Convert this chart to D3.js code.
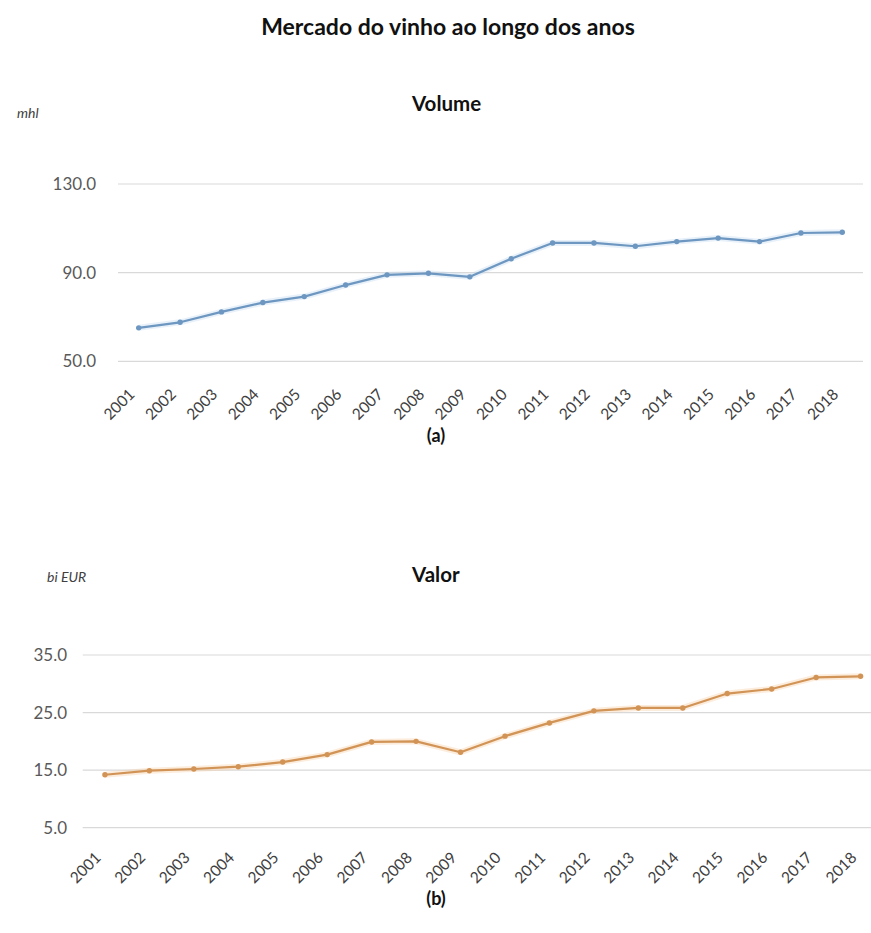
<!DOCTYPE html>
<html>
<head>
<meta charset="utf-8">
<script src="https://cdn.jsdelivr.net/npm/d3@7/dist/d3.min.js"></script>
<style>
  html, body { margin: 0; padding: 0; background: #ffffff; }
  svg { display: block; font-family: Lato, "Open Sans", sans-serif; }
</style>
</head>
<body>
<svg id="chart" width="871" height="933"></svg>
<script>
// Anos
const years = ["2001","2002","2003","2004","2005","2006","2007","2008","2009",
               "2010","2011","2012","2013","2014","2015","2016","2017","2018"];

// Volume (mhl)
const volume = [65.1, 67.6, 72.3, 76.5, 79.2, 84.4, 89.0, 89.7, 88.1,
                96.3, 103.4, 103.4, 101.9, 104.0, 105.6, 104.0, 107.9, 108.2];
const volumeTicks = [50, 90, 130];

// Valor (bi EUR)
const valor = [14.2, 14.9, 15.2, 15.6, 16.4, 17.7, 19.9, 20.0, 18.1,
               20.9, 23.2, 25.3, 25.8, 25.8, 28.3, 29.1, 31.1, 31.3];
const valorTicks = [5, 15, 25, 35];

const svg = d3.select("#chart");
const W = 871;

svg.append("text")
  .attr("x", 448).attr("y", 35)
  .attr("text-anchor", "middle")
  .attr("font-size", 23).attr("font-weight", "bold").attr("fill", "#111")
  .text("Mercado do vinho ao longo dos anos");

function panel(cfg) {
  const g = svg.append("g");
  const x = d3.scaleBand().domain(years).range([cfg.left, cfg.right]).padding(0);
  const y = d3.scaleLinear().domain(cfg.domain).range([cfg.bottom, cfg.top]);

  // grid lines
  g.append("g").selectAll("line").data(cfg.ticks).join("line")
    .attr("x1", cfg.left).attr("x2", Math.min(cfg.right, W))
    .attr("y1", d => y(d)).attr("y2", d => y(d))
    .attr("stroke", "#d9d9d9").attr("stroke-width", 1.2);

  // y tick labels
  const yAxis = d3.axisLeft(y).tickValues(cfg.ticks).tickFormat(d3.format(".1f")).tickSize(0);
  const ya = g.append("g").attr("transform", `translate(${cfg.labelX},0)`).call(yAxis);
  ya.select(".domain").remove();
  ya.selectAll("text").attr("font-size", 17).attr("fill", "#595959")
    .attr("font-family", "Lato, sans-serif").attr("dx", 0);

  // x tick labels, rotated
  const xAxis = d3.axisBottom(x).tickSize(0);
  const xa = g.append("g").attr("transform", `translate(0,${cfg.bottom})`).call(xAxis);
  xa.select(".domain").remove();
  xa.selectAll("text")
    .attr("font-size", 15.5).attr("fill", "#404040").attr("font-family", "Lato, sans-serif")
    .attr("text-anchor", "end")
    .attr("y", 0).attr("dy", 0)
    .attr("transform", `translate(-3,${cfg.yearDY}) rotate(-45)`);

  const cx = d => x(d) + x.bandwidth() / 2;
  const pts = years.map((yr, i) => [cx(yr), y(cfg.values[i])]);

  // soft halo under the line
  g.append("path").datum(pts)
    .attr("d", d3.line())
    .attr("fill", "none").attr("stroke", cfg.halo).attr("stroke-width", 6)
    .attr("stroke-linejoin", "round").attr("opacity", 0.35);

  g.append("path").datum(pts)
    .attr("d", d3.line())
    .attr("fill", "none").attr("stroke", cfg.color).attr("stroke-width", 2.2)
    .attr("stroke-linejoin", "round");

  g.append("g").selectAll("circle").data(pts).join("circle")
    .attr("cx", d => d[0]).attr("cy", d => d[1]).attr("r", 2.7)
    .attr("fill", cfg.color);

  // panel title, unit and caption
  svg.append("text").attr("x", cfg.titleX).attr("y", cfg.titleY)
    .attr("font-size", 20.5).attr("font-weight", "bold").attr("fill", "#111")
    .text(cfg.title);
  svg.append("text").attr("x", cfg.unitX).attr("y", cfg.unitY)
    .attr("font-size", 14).attr("font-style", "italic").attr("fill", "#404040")
    .text(cfg.unit);
  svg.append("text").attr("x", 436).attr("y", cfg.capY)
    .attr("text-anchor", "middle")
    .attr("font-size", 18).attr("font-weight", "bold").attr("fill", "#111")
    .text(cfg.caption);
}

panel({
  values: volume, ticks: volumeTicks, domain: [50, 130],
  left: 118, right: 863, top: 184, bottom: 361.3, labelX: 99, yearDY: 34,
  color: "#6d97c0", halo: "#bcd6ee",
  title: "Volume", titleX: 412, titleY: 111,
  unit: "mhl", unitX: 17, unitY: 118,
  caption: "(a)", capY: 442
});

panel({
  values: valor, ticks: valorTicks, domain: [5, 35],
  left: 82.7, right: 882.8, top: 655, bottom: 827.7, labelX: 70, yearDY: 31,
  color: "#d19456", halo: "#f6c99a",
  title: "Valor", titleX: 412, titleY: 582,
  unit: "bi EUR", unitX: 47, unitY: 582,
  caption: "(b)", capY: 905
});
</script>
</body>
</html>
